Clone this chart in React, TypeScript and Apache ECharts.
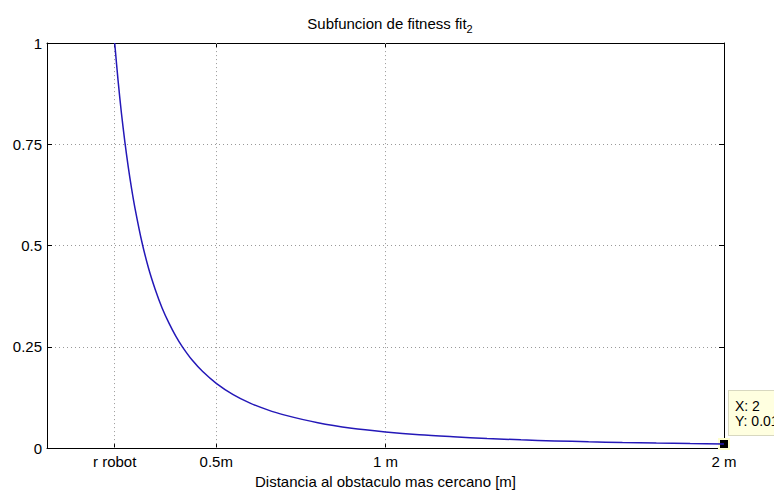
import React, { useEffect, useRef } from "react";
import * as echarts from "echarts";

const distances = [0.2, 0.21, 0.22, 0.23, 0.24, 0.25, 0.26, 0.28, 0.3, 0.32, 0.34, 0.36, 0.38, 0.4, 0.43, 0.46, 0.5, 0.55, 0.6, 0.65, 0.7, 0.8, 0.9, 1.0, 1.1, 1.2, 1.3, 1.4, 1.5, 1.6, 1.7, 1.8, 1.9, 2.0];
const fitness = [1.0, 0.907, 0.826, 0.756, 0.694, 0.64, 0.592, 0.51, 0.444, 0.391, 0.346, 0.309, 0.277, 0.25, 0.216, 0.189, 0.16, 0.132, 0.111, 0.095, 0.082, 0.0625, 0.049, 0.04, 0.033, 0.028, 0.0237, 0.0204, 0.0178, 0.0156, 0.0138, 0.0123, 0.0111, 0.01];
const xTickValues = [0.2, 0.5, 1, 2];
const xTickLabels = ["r robot", "0.5m", "1 m", "2 m"];
const xGridValues = [0.2, 0.5, 1];
const tipPoint = [2, 0.01];
const tipText = ["X: 2", "Y: 0.01"];

const FONT = "Liberation Sans, Arial, Helvetica, sans-serif";

export default function App() {
  const ref = useRef<HTMLDivElement>(null);
  useEffect(() => {
    if (!ref.current) return;
    const chart = echarts.init(ref.current, undefined, { renderer: "svg" });
    const gridLine = { color: "#999", width: 1, type: [1, 3] as any };
    const axisCommon = {
      type: "value" as const,
      axisLine: { show: true, onZero: false, lineStyle: { color: "#000", width: 1 } },
      splitLine: { show: false },
    };
    chart.setOption({
      animation: false,
      backgroundColor: "#fff",
      textStyle: { fontFamily: FONT },
      title: {
        text: "{a|Subfuncion de fitness fit}{s|2}",
        left: 385,
        textAlign: "center",
        top: 8,
        textStyle: {
          fontWeight: "normal",
          rich: {
            a: { fontSize: 15, color: "#000", fontFamily: FONT, fontWeight: "normal" },
            s: { fontSize: 11, color: "#000", fontFamily: FONT, fontWeight: "normal", padding: [10, 0, 0, 0] },
          },
        },
      },
      grid: { left: 47, right: 50, top: 43, bottom: 44, containLabel: false },
      xAxis: [
        {
          ...axisCommon,
          min: 0,
          max: 2,
          position: "bottom",
          axisTick: { show: true, inside: true, length: 5, customValues: xTickValues, lineStyle: { color: "#000" } },
          axisLabel: {
            customValues: xTickValues,
            color: "#000",
            fontSize: 15,
            margin: 6,
            fontFamily: FONT,
            formatter: (v: number) => {
              const i = xTickValues.indexOf(v);
              return i >= 0 ? xTickLabels[i] : "";
            },
          },
          name: "Distancia al obstaculo mas cercano [m]",
          nameLocation: "middle",
          nameGap: 24,
          nameTextStyle: { color: "#000", fontSize: 15, fontFamily: FONT },
        },
        {
          ...axisCommon,
          min: 0,
          max: 2,
          position: "top",
          axisTick: { show: true, inside: true, length: 5, customValues: xTickValues, lineStyle: { color: "#000" } },
          axisLabel: { show: false },
        },
      ],
      yAxis: [
        {
          ...axisCommon,
          min: 0,
          max: 1,
          interval: 0.25,
          position: "left",
          axisTick: { show: true, inside: true, length: 5, lineStyle: { color: "#000" } },
          axisLabel: { color: "#000", fontSize: 15, margin: 5, fontFamily: FONT },
          splitLine: { show: true, lineStyle: gridLine },
        },
        {
          ...axisCommon,
          min: 0,
          max: 1,
          interval: 0.25,
          position: "right",
          axisTick: { show: true, inside: true, length: 5, lineStyle: { color: "#000" } },
          axisLabel: { show: false },
        },
      ],
      series: [
        {
          type: "line",
          xAxisIndex: 0,
          yAxisIndex: 0,
          data: distances.map((d, i) => [d, fitness[i]]),
          smooth: 0.3,
          showSymbol: false,
          lineStyle: { color: "#2418b8", width: 1.5 },
          z: 5,
          markLine: {
            silent: true,
            symbol: "none",
            label: { show: false },
            lineStyle: gridLine,
            data: xGridValues.map((v) => ({ xAxis: v })),
            z: 1,
          },
          markPoint: {
            silent: true,
            symbol: "rect",
            symbolSize: 10,
            itemStyle: { color: "#000", borderColor: "#ffffd0", borderWidth: 2 },
            label: {
              show: true,
              position: [11, -47],
              formatter: tipText.join("\n"),
              color: "#000",
              fontSize: 14,
              lineHeight: 15,
              fontFamily: FONT,
              backgroundColor: "#ffffe0",
              borderColor: "#d8d8c0",
              borderWidth: 1,
              padding: [7, 6, 7, 6],
              align: "left",
            },
            data: [{ coord: tipPoint }],
          },
        },
      ],
    });
    return () => chart.dispose();
  }, []);
  return <div ref={ref} style={{ width: 774, height: 494, position: "absolute", left: 0, top: 0 }} />;
}
